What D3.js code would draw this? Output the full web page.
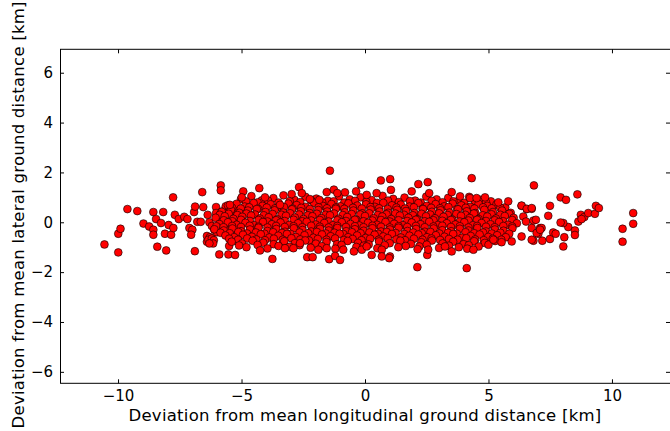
<!DOCTYPE html>
<html><head><meta charset="utf-8">
<script src="https://cdn.jsdelivr.net/npm/d3@7"></script>
<style>
html,body{margin:0;padding:0;background:#fff;overflow:hidden}
text{font-family:"DejaVu Sans",sans-serif;fill:#000}
</style></head>
<body><svg id="chart" width="670" height="431"></svg>
<script>
// ---- data (km) ----
const xTicks = [-10, -5, 0, 5, 10];
const yTicks = [-6, -4, -2, 0, 2, 4, 6];
const xLabel = "Deviation from mean longitudinal ground distance [km]";
const yLabel = "Deviation from mean lateral ground distance [km]";

const rowA = [[-5.02,0.93],[-4.6,1.05],[-4.18,0.88],[-3.71,0.97],[-3.3,1.08],[-2.86,0.9],[-2.41,1.02],[-1.97,0.95],[-1.5,0.86],[-1.05,1.04],[-0.62,0.92],[-0.18,1.0],[0.27,0.89],[0.71,1.06],[1.14,0.94],[1.6,0.99],[2.03,0.87],[2.48,1.03],[2.9,0.92],[3.37,0.98],[3.8,0.88],[4.22,1.02],[4.68,0.9],[5.1,0.84]];
const rowAB = [[-4.82,0.84],[-4.35,0.8],[-3.93,0.87],[-3.5,0.79],[-3.05,0.85],[-2.62,0.81],[-2.18,0.88],[-1.73,0.8],[-1.27,0.84],[-0.84,0.79],[-0.4,0.86],[0.05,0.82],[0.49,0.78],[0.93,0.87],[1.37,0.81],[1.82,0.85],[2.26,0.79],[2.7,0.86],[3.14,0.8],[3.58,0.84],[4.02,0.78],[4.45,0.85],[4.9,0.8]];
const rowB = [[-5.55,0.68],[-5.2,0.74],[-4.87,0.63],[-4.51,0.77],[-4.15,0.66],[-3.82,0.72],[-3.47,0.61],[-3.1,0.75],[-2.77,0.69],[-2.4,0.62],[-2.06,0.78],[-1.71,0.66],[-1.36,0.73],[-1.0,0.64],[-0.67,0.76],[-0.31,0.67],[0.04,0.72],[0.4,0.62],[0.74,0.78],[1.09,0.68],[1.45,0.71],[1.8,0.63],[2.16,0.77],[2.5,0.66],[2.86,0.73],[3.21,0.64],[3.55,0.75],[3.9,0.68],[4.26,0.62],[4.6,0.74],[4.95,0.66],[5.32,0.71],[5.68,0.6]];
const rowBC = [[-5.38,0.58],[-5.03,0.55],[-4.69,0.6],[-4.33,0.54],[-3.98,0.59],[-3.64,0.56],[-3.28,0.61],[-2.93,0.55],[-2.58,0.58],[-2.23,0.53],[-1.88,0.6],[-1.54,0.56],[-1.18,0.59],[-0.84,0.54],[-0.49,0.58],[-0.13,0.55],[0.22,0.61],[0.57,0.56],[0.92,0.53],[1.27,0.59],[1.62,0.55],[1.98,0.6],[2.33,0.54],[2.68,0.58],[3.04,0.56],[3.38,0.61],[3.73,0.53],[4.08,0.58],[4.43,0.55],[4.78,0.6],[5.13,0.56],[5.48,0.58]];
const rowC = [[-5.8,0.42],[-5.43,0.5],[-5.09,0.38],[-4.74,0.47],[-4.38,0.53],[-4.03,0.41],[-3.66,0.48],[-3.31,0.39],[-2.96,0.52],[-2.6,0.44],[-2.24,0.37],[-1.89,0.49],[-1.53,0.43],[-1.18,0.54],[-0.82,0.4],[-0.47,0.47],[-0.11,0.36],[0.23,0.51],[0.59,0.43],[0.94,0.38],[1.3,0.5],[1.66,0.45],[2.0,0.37],[2.35,0.53],[2.71,0.42],[3.06,0.48],[3.42,0.39],[3.77,0.52],[4.12,0.44],[4.47,0.37],[4.83,0.5],[5.18,0.41],[5.55,0.47],[5.9,0.38]];
const rowCD = [[-5.88,0.3],[-5.52,0.34],[-5.17,0.29],[-4.8,0.35],[-4.45,0.31],[-4.1,0.28],[-3.74,0.33],[-3.38,0.3],[-3.03,0.36],[-2.67,0.31],[-2.31,0.28],[-1.95,0.34],[-1.6,0.3],[-1.25,0.35],[-0.9,0.29],[-0.54,0.33],[-0.19,0.31],[0.17,0.36],[0.52,0.29],[0.87,0.32],[1.23,0.35],[1.58,0.3],[1.94,0.28],[2.29,0.34],[2.64,0.31],[3.0,0.36],[3.35,0.29],[3.7,0.33],[4.06,0.3],[4.41,0.35],[4.77,0.28],[5.12,0.32],[5.48,0.3],[5.84,0.34]];
const rowD = [[-6.05,0.18],[-5.68,0.24],[-5.33,0.14],[-4.97,0.22],[-4.61,0.27],[-4.26,0.15],[-3.9,0.2],[-3.55,0.12],[-3.2,0.26],[-2.84,0.19],[-2.49,0.13],[-2.13,0.24],[-1.77,0.17],[-1.42,0.28],[-1.07,0.14],[-0.72,0.21],[-0.36,0.11],[0.0,0.25],[0.35,0.16],[0.7,0.23],[1.06,0.13],[1.41,0.27],[1.76,0.18],[2.12,0.12],[2.47,0.24],[2.83,0.16],[3.18,0.22],[3.53,0.11],[3.89,0.26],[4.24,0.17],[4.6,0.13],[4.95,0.23],[5.3,0.15],[5.66,0.25],[6.02,0.18]];
const rowDE = [[-5.72,0.08],[-5.37,0.04],[-5.02,0.1],[-4.66,0.05],[-4.31,0.09],[-3.95,0.03],[-3.6,0.08],[-3.25,0.05],[-2.89,0.1],[-2.54,0.04],[-2.18,0.07],[-1.83,0.09],[-1.47,0.03],[-1.12,0.08],[-0.77,0.05],[-0.41,0.1],[-0.06,0.04],[0.3,0.07],[0.65,0.09],[1.0,0.03],[1.36,0.08],[1.71,0.05],[2.06,0.1],[2.42,0.04],[2.77,0.08],[3.13,0.06],[3.48,0.09],[3.84,0.03],[4.19,0.07],[4.54,0.1],[4.9,0.05],[5.25,0.08],[5.6,0.04],[5.96,0.09]];
const rowE = [[-5.9,-0.07],[-5.55,0.0],[-5.2,-0.1],[-4.84,-0.02],[-4.49,-0.12],[-4.13,0.01],[-3.77,-0.08],[-3.42,-0.01],[-3.07,-0.11],[-2.71,-0.04],[-2.36,0.02],[-2.0,-0.09],[-1.65,-0.03],[-1.3,-0.12],[-0.94,0.0],[-0.59,-0.07],[-0.23,-0.13],[0.12,-0.02],[0.48,-0.1],[0.83,0.01],[1.18,-0.06],[1.54,-0.12],[1.89,-0.01],[2.25,-0.08],[2.6,0.02],[2.96,-0.11],[3.31,-0.04],[3.66,-0.09],[4.02,0.0],[4.37,-0.12],[4.72,-0.03],[5.08,-0.08],[5.43,0.01],[5.79,-0.1],[6.15,-0.04]];
const rowEF = [[-6.02,-0.16],[-5.73,-0.2],[-5.38,-0.15],[-5.02,-0.19],[-4.67,-0.14],[-4.31,-0.18],[-3.95,-0.21],[-3.6,-0.15],[-3.25,-0.19],[-2.89,-0.16],[-2.54,-0.2],[-2.18,-0.14],[-1.83,-0.18],[-1.47,-0.21],[-1.12,-0.15],[-0.77,-0.19],[-0.41,-0.16],[-0.06,-0.2],[0.3,-0.14],[0.65,-0.18],[1.0,-0.21],[1.36,-0.16],[1.71,-0.19],[2.06,-0.15],[2.42,-0.2],[2.77,-0.17],[3.13,-0.14],[3.48,-0.19],[3.84,-0.16],[4.19,-0.21],[4.54,-0.15],[4.9,-0.18],[5.25,-0.2],[5.6,-0.15],[5.96,-0.17]];
const rowF = [[-6.1,-0.28],[-5.72,-0.33],[-5.37,-0.25],[-5.02,-0.36],[-4.66,-0.29],[-4.31,-0.22],[-3.95,-0.35],[-3.59,-0.27],[-3.24,-0.38],[-2.88,-0.24],[-2.53,-0.31],[-2.18,-0.37],[-1.82,-0.26],[-1.47,-0.33],[-1.12,-0.23],[-0.76,-0.36],[-0.41,-0.28],[-0.05,-0.34],[0.3,-0.24],[0.65,-0.37],[1.01,-0.29],[1.36,-0.22],[1.72,-0.35],[2.07,-0.27],[2.42,-0.38],[2.78,-0.25],[3.13,-0.32],[3.49,-0.36],[3.84,-0.26],[4.19,-0.33],[4.55,-0.23],[4.9,-0.37],[5.26,-0.29],[5.61,-0.34],[5.97,-0.24]];
const rowFG = [[-5.85,-0.42],[-5.48,-0.44],[-5.13,-0.39],[-4.78,-0.45],[-4.42,-0.41],[-4.07,-0.46],[-3.72,-0.4],[-3.36,-0.43],[-3.01,-0.47],[-2.65,-0.41],[-2.3,-0.44],[-1.95,-0.39],[-1.59,-0.45],[-1.24,-0.42],[-0.88,-0.47],[-0.53,-0.4],[-0.18,-0.44],[0.18,-0.41],[0.53,-0.46],[0.88,-0.39],[1.24,-0.43],[1.59,-0.47],[1.95,-0.41],[2.3,-0.44],[2.65,-0.39],[3.01,-0.45],[3.36,-0.42],[3.72,-0.46],[4.07,-0.4],[4.42,-0.44],[4.78,-0.41],[5.13,-0.45],[5.48,-0.42],[5.84,-0.46]];
const rowG = [[-5.65,-0.53],[-5.3,-0.6],[-4.94,-0.5],[-4.58,-0.58],[-4.22,-0.48],[-3.87,-0.61],[-3.51,-0.54],[-3.16,-0.47],[-2.8,-0.59],[-2.45,-0.52],[-2.09,-0.62],[-1.74,-0.49],[-1.39,-0.56],[-1.03,-0.46],[-0.68,-0.6],[-0.32,-0.53],[0.03,-0.63],[0.39,-0.5],[0.74,-0.57],[1.09,-0.47],[1.45,-0.61],[1.8,-0.54],[2.16,-0.49],[2.51,-0.6],[2.87,-0.52],[3.22,-0.58],[3.57,-0.47],[3.93,-0.62],[4.28,-0.55],[4.64,-0.49],[4.99,-0.59],[5.35,-0.52],[5.7,-0.6]];
const rowGH = [[-5.5,-0.66],[-5.14,-0.7],[-4.77,-0.65],[-4.4,-0.69],[-4.05,-0.72],[-3.69,-0.66],[-3.33,-0.7],[-2.98,-0.64],[-2.62,-0.69],[-2.27,-0.73],[-1.91,-0.67],[-1.56,-0.7],[-1.21,-0.65],[-0.85,-0.71],[-0.5,-0.67],[-0.14,-0.72],[0.21,-0.66],[0.56,-0.7],[0.92,-0.64],[1.27,-0.69],[1.62,-0.72],[1.98,-0.66],[2.33,-0.7],[2.69,-0.65],[3.04,-0.71],[3.4,-0.67],[3.75,-0.7],[4.1,-0.64],[4.46,-0.69],[4.81,-0.72],[5.17,-0.66],[5.52,-0.7]];
const rowH = [[-5.4,-0.78],[-4.98,-0.85],[-4.55,-0.74],[-4.12,-0.82],[-3.7,-0.88],[-3.27,-0.76],[-2.84,-0.84],[-2.42,-0.73],[-1.99,-0.86],[-1.56,-0.79],[-1.13,-0.88],[-0.7,-0.75],[-0.28,-0.83],[0.15,-0.89],[0.57,-0.77],[1.0,-0.84],[1.43,-0.74],[1.86,-0.87],[2.28,-0.8],[2.71,-0.73],[3.14,-0.85],[3.57,-0.78],[3.99,-0.88],[4.42,-0.76],[4.85,-0.83],[5.27,-0.75]];
const rowHI = [[-5.1,-0.93],[-4.35,-0.91],[-3.5,-0.95],[-2.65,-0.92],[-1.75,-0.96],[-0.95,-0.91],[-0.05,-0.94],[0.8,-0.92],[1.65,-0.95],[2.5,-0.9],[3.4,-0.94],[4.2,-0.92],[5.0,-0.9]];
const rowI = [[-4.8,-1.0],[-3.95,-1.05],[-3.05,-0.98],[-2.2,-1.02],[-1.2,-1.06],[-0.35,-0.99],[0.5,-1.04],[1.35,-1.0],[2.2,-0.97],[3.0,-1.03],[3.8,-1.0],[4.6,-0.97]];
const leftTail = [[-10.55,-0.89],[-9.99,-1.21],[-9.99,-0.46],[-9.9,-0.26],[-9.62,0.53],[-9.22,0.45],[-8.97,-0.05],[-8.74,-0.17],[-8.57,0.41],[-8.17,0.41],[-8.57,-0.3],[-8.57,-0.5],[-8.41,-0.98],[-8.05,-1.13],[-8.46,0.13],[-8.26,-0.03],[-8.1,-0.46],[-7.95,-0.11],[-7.85,-0.5],[-7.76,-0.23],[-7.77,1.0],[-7.7,0.3],[-7.54,0.13],[-7.32,0.22],[-7.19,0.13],[-7.11,-0.23],[-6.99,-0.3],[-7.04,-0.5],[-6.89,-1.16],[-6.92,0.41],[-6.88,0.63],[-6.59,1.21],[-6.79,0.02],[-6.65,0.02],[-6.55,0.61],[-6.37,0.3],[-6.4,-0.55],[-6.4,-0.78],[-6.28,-0.6],[-6.34,-0.7],[-6.2,-0.65],[-6.12,-0.72],[-6.15,-0.85],[-6.3,-0.85],[-6.3,0.0],[-6.2,-0.15],[-6.1,-0.3],[-6.0,-0.4],[-5.84,1.48],[-5.84,1.28],[-6.03,0.61],[-6.03,0.37],[-5.8,0.43],[-5.8,0.17],[-5.64,0.64],[-5.6,0.37],[-5.64,0.03],[-5.6,-0.3],[-5.6,-0.5],[-5.44,0.64],[-5.32,0.37],[-5.32,-0.03],[-5.2,0.5],[-5.2,0.23],[-5.2,-0.3],[-5.29,-0.7],[-5.15,-0.77],[-5.5,-0.95],[-5.9,-1.29],[-5.53,-1.29]];
const rightTail = [[6.84,1.48],[7.92,1.0],[8.14,0.9],[8.6,1.12],[7.49,0.66],[7.42,0.26],[6.34,0.66],[6.55,0.53],[6.75,0.54],[6.41,0.23],[6.52,0.03],[6.82,0.07],[6.92,0.1],[6.75,-0.23],[7.09,-0.23],[7.15,-0.23],[6.34,-0.57],[6.82,-0.74],[7.02,-0.46],[7.18,-0.74],[7.49,-0.67],[7.62,-0.41],[7.72,-0.46],[8.07,-0.6],[8.23,-0.19],[8.03,-0.03],[7.92,-0.01],[8.5,-0.33],[8.5,-0.51],[8.03,-0.97],[8.64,0.03],[8.74,0.3],[8.88,0.21],[8.77,0.13],[9.04,0.37],[9.31,0.34],[9.35,0.66],[9.47,0.57],[10.43,-0.26],[10.43,-0.78],[10.86,0.37],[10.86,-0.06],[5.4,0.8],[5.8,0.84],[6.34,0.67],[6.55,0.54],[6.75,0.57],[5.2,-0.7],[5.53,-0.8],[5.94,-0.77],[6.95,-0.43],[7.09,-0.3],[6.75,-0.7]];
const upperOutliers = [[-1.42,2.07],[-4.28,1.37],[-2.67,1.41],[-4.93,1.24],[-0.16,1.51],[0.64,1.68],[1.02,1.73],[2.16,1.53],[2.54,1.61],[1.05,1.3],[3.51,1.21],[4.32,1.77],[1.89,1.24],[2.6,1.17],[3.85,1.04],[4.25,0.97],[4.52,0.97],[4.86,1.0],[-1.55,1.21],[-1.26,1.31],[-1.12,1.17],[-0.81,1.2],[-0.36,1.24],[0.07,1.1],[0.47,1.17],[-2.97,1.13],[-2.56,1.17],[-2.23,0.93],[-1.85,0.9],[-4.05,1.0],[-4.99,1.0],[-5.47,0.7],[-3.44,0.7]];
const lowerOutliers = [[2.12,-1.8],[4.12,-1.84],[1.01,-1.37],[0.68,-1.1],[2.52,-1.31],[2.56,-1.1],[3.51,-1.17],[4.14,-1.06],[4.39,-1.1],[2.13,-1.08],[3.24,-0.97],[-3.75,-1.47],[-4.25,-1.13],[-2.34,-1.4],[-2.12,-1.4],[-1.45,-1.48],[-1.21,-1.35],[-1.01,-1.51],[-0.45,-1.17],[0.27,-1.31],[0.68,-1.37],[0.98,-1.44],[-5.26,-1.31],[-3.24,-1.04],[-2.9,-1.04],[-2.63,-0.84],[-1.89,-1.1],[-1.55,-1.04],[-0.88,-1.1],[-0.13,-1.1],[0.07,-0.97]];

const points = [].concat(leftTail, rowA, rowAB, rowB, rowBC, rowC, rowCD, rowD, rowDE, rowE, rowEF, rowF, rowFG, rowG, rowGH, rowH, rowHI, rowI, rightTail, upperOutliers, lowerOutliers);

// ---- layout ----
const L = 60, R = 670, T = 49.3, B = 383.3;
const x = d3.scaleLinear().domain([-12.35, 12.35]).range([L, R]);
const y = d3.scaleLinear().domain([-6.46, 6.94]).range([B, T]);

const svg = d3.select("#chart");
const fmt = d3.format("d");

// points
svg.append("g").selectAll("circle").data(points).join("circle")
  .attr("cx", d => x(d[0])).attr("cy", d => y(d[1])).attr("r", 3.9)
  .attr("fill", "#ff0000").attr("stroke", "#000").attr("stroke-width", 0.6);

// axes (ticks inward, matplotlib classic)
const tickFont = "15px";
const gB = svg.append("g").attr("transform", `translate(0,${B})`)
  .call(d3.axisBottom(x).tickValues(xTicks).tickFormat(fmt).tickSizeInner(-4).tickSizeOuter(0).tickPadding(7));
const gT = svg.append("g").attr("transform", `translate(0,${T})`)
  .call(d3.axisTop(x).tickValues(xTicks).tickFormat("").tickSizeInner(-4).tickSizeOuter(0));
const gL = svg.append("g").attr("transform", `translate(${L},0)`)
  .call(d3.axisLeft(y).tickValues(yTicks).tickFormat(fmt).tickSizeInner(-4).tickSizeOuter(0).tickPadding(7));
const gR = svg.append("g").attr("transform", `translate(${R},0)`)
  .call(d3.axisRight(y).tickValues(yTicks).tickFormat("").tickSizeInner(-4).tickSizeOuter(0));
[gB, gT, gL, gR].forEach(g => {
  g.select(".domain").remove();
  g.selectAll(".tick line").attr("stroke", "#000").attr("stroke-width", 1);
  g.selectAll("text").attr("font-family", "DejaVu Sans").attr("font-size", tickFont).attr("fill", "#000");
});

// frame
svg.append("rect").attr("x", L + 0.5).attr("y", T).attr("width", R - L).attr("height", B - T)
  .attr("fill", "none").attr("stroke", "#000").attr("stroke-width", 1);

// labels
svg.append("text").attr("x", (L + R) / 2).attr("y", 421).attr("text-anchor", "middle")
  .attr("font-size", "16.5px").attr("letter-spacing", "0.25px").text(xLabel);
svg.append("text").attr("transform", `translate(24,${(T + B) / 2 - 1.5}) rotate(-90)`).attr("text-anchor", "middle")
  .attr("font-size", "16.5px").attr("letter-spacing", "0.25px").text(yLabel);
</script></body></html>
